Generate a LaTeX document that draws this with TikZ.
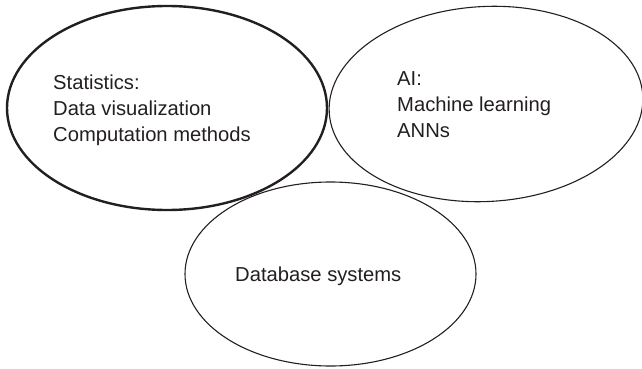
\documentclass[tikz,border=0pt]{standalone}
\usepackage{fontspec}
\setmainfont{Liberation Sans}
\usetikzlibrary{shapes.geometric, positioning}
\definecolor{ink}{RGB}{35,31,32}

\begin{document}
\begin{tikzpicture}[x=1pt, y=-1pt,
  field/.style={draw=ink, ellipse, inner sep=0pt, line width=1.1pt},
  fieldtext/.style={anchor=base west, align=left, inner sep=0pt, text=ink,
    font=\fontsize{20.2}{26}\selectfont}]
  \useasboundingbox (0,0) rectangle (642,369);

  % Statistics
  \node[field, line width=2.4pt, minimum width=320pt, minimum height=204pt] (stats) at (167,108) {};
  \node[fieldtext] (statstext) at (53,141) {Statistics:\\Data visualization\\Computation methods};

  % AI
  \node[field, rotate=3, minimum width=314pt, minimum height=195pt] (ai) at (486,104) {};
  \node[fieldtext] (aitext) at (397,137) {AI:\\Machine learning\\ANNs};

  % Database systems
  \node[field, minimum width=291pt, minimum height=184pt] (dbsys) at (330.5,274) {};
  \node[fieldtext] (dbtext) at (235,281) {Database systems};
\end{tikzpicture}
\end{document}
